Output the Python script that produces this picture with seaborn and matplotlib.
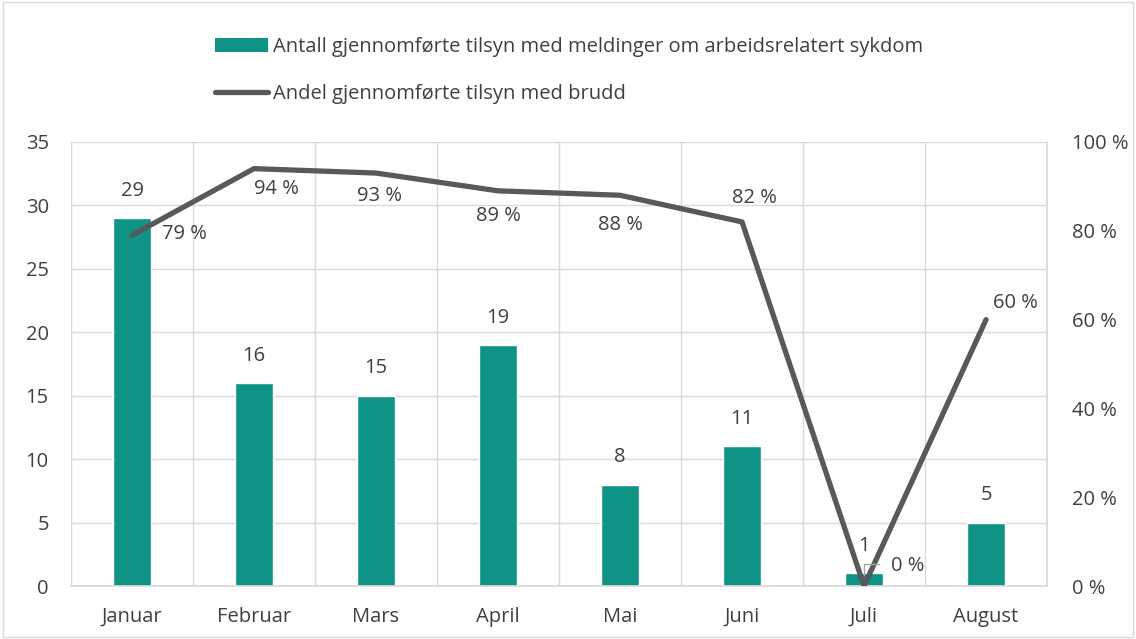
import matplotlib
matplotlib.use("Agg")
import matplotlib.pyplot as plt
import seaborn as sns
import pandas as pd
import numpy as np
from matplotlib.lines import Line2D
from matplotlib.patches import Patch

months = ["Januar", "Februar", "Mars", "April", "Mai", "Juni", "Juli", "August"]
antall = [29, 16, 15, 19, 8, 11, 1, 5]
andel = [79, 94, 93, 89, 88, 82, 0, 60]
bar_label = "Antall gjennomførte tilsyn med meldinger om arbeidsrelatert sykdom"
line_label = "Andel gjennomførte tilsyn med brudd"

sns.set_theme(style="white")
plt.rcParams['font.family'] = ['Open Sans', 'DejaVu Sans']

TEAL = "#0E9384"
GRAY = "#595959"
TXT = "#404040"
GRID = "#D9D9D9"
FS = 14.5

df = pd.DataFrame({"month": months, "antall": antall, "andel": andel})

fig = plt.figure(figsize=(11.36, 6.39), dpi=100)
ax = fig.add_axes([0.0625, 0.0829, 0.8592, 0.6949])

sns.barplot(data=df, x="month", y="antall", color=TEAL, width=0.31, ax=ax, saturation=1)
ax.set_ylim(0, 35)
ax.set_xlim(-0.5, 7.5)
ax.set_yticks(range(0, 36, 5))
ax.set_xlabel("")
ax.set_ylabel("")
ax.grid(axis="y", color=GRID, lw=1)
ax.set_xticks(np.arange(-0.5, 8, 1), minor=True)
ax.grid(axis="x", which="minor", color=GRID, lw=1)
ax.set_axisbelow(True)
for s in ["top", "left"]:
    ax.spines[s].set_visible(False)
ax.spines["bottom"].set_color(GRID)
ax.spines["right"].set_color(GRID)
ax.tick_params(axis="x", which="both", length=0, labelsize=FS, colors=TXT, pad=15)
ax.tick_params(axis="y", which="both", length=0, labelsize=FS, colors=TXT, pad=16)

for i, v in enumerate(antall):
    ax.text(i, v + 2.15, str(v), ha="center", va="center", fontsize=FS, color=TXT)

ax2 = ax.twinx()
sns.lineplot(x=np.arange(len(months)), y=andel, color=GRAY, lw=3.8, ax=ax2, solid_capstyle="round")
ax2.set_ylim(0, 100)
ax2.set_yticks(range(0, 101, 20))
ax2.set_yticklabels([f"{t} %" for t in range(0, 101, 20)])
ax2.tick_params(axis="y", length=0, labelsize=FS, colors=TXT, pad=18)
for s in ax2.spines.values():
    s.set_visible(False)
ax2.set_xlim(-0.5, 7.5)

offsets = [(0.43, 0.3), (0.18, -4.7), (0.03, -5.2), (0.0, -5.6), (0.0, -6.8),
           (0.1, 5.4), (0.36, 4.5), (0.24, 3.8)]
for i, v in enumerate(andel):
    dx, dy = offsets[i]
    ax2.text(i + dx, v + dy, f"{v} %", ha="center", va="center", fontsize=FS, color=TXT)

# small leader line for the Juli label
ax2.plot([6.0, 6.0, 6.12], [2.5, 5.0, 5.0], color="#A6A6A6", lw=1)

handles = [Patch(facecolor=TEAL, edgecolor="none"),
           Line2D([0], [0], color=GRAY, lw=3.8, solid_capstyle="round")]
fig.legend(handles, [bar_label, line_label], loc="upper center",
           bbox_to_anchor=(0.501, 0.97), ncol=1, frameon=False, fontsize=FS,
           labelcolor=TXT, handlelength=2.6, handletextpad=0.25, labelspacing=1.35)

fig.patches.append(plt.Rectangle((0.003, 0.003), 0.994, 0.994, transform=fig.transFigure,
                                 fill=False, edgecolor=GRID, lw=1))

fig.savefig("out.png", dpi=100)
